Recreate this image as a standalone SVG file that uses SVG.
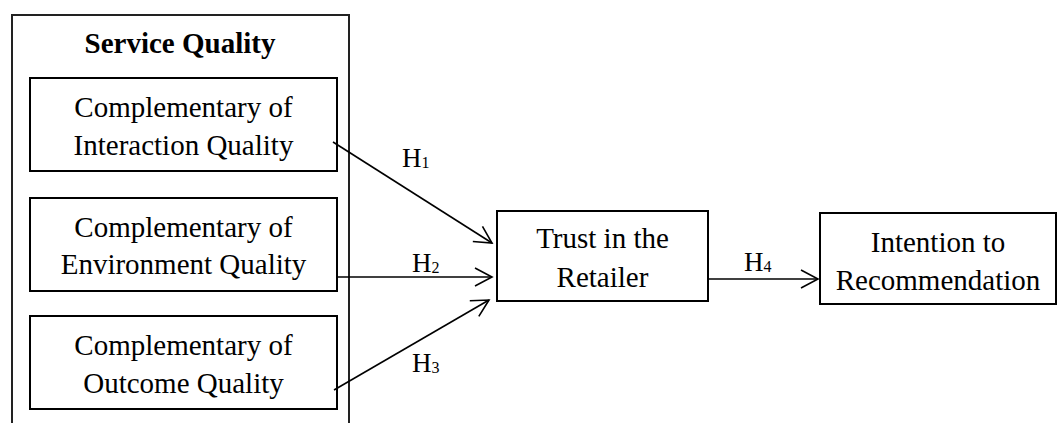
<svg xmlns="http://www.w3.org/2000/svg" width="1058" height="423" viewBox="0 0 1058 423">
  <defs>
    <style>
      .box { fill: #ffffff; stroke: #000000; stroke-width: 2; }
      .frame { fill: none; stroke: #222222; stroke-width: 2; }
      .lbl { font-family: "Liberation Serif", "Times New Roman", serif; font-size: 29px; fill: #000000; text-anchor: middle; }
      .title { font-weight: bold; }
      .hyp { font-family: "Liberation Serif", "Times New Roman", serif; font-size: 27px; fill: #000000; }
      .sub { font-size: 16px; }
      .edge { fill: none; stroke: #000000; stroke-width: 1.6; }
    </style>
    <marker id="arrow" markerUnits="userSpaceOnUse" markerWidth="24" markerHeight="24" refX="0" refY="0" viewBox="-20 -12 24 24" orient="auto">
      <path d="M-17,-9 L0,0 L-17,9" fill="none" stroke="#000000" stroke-width="1.6"/>
    </marker>
  </defs>

  <rect width="1058" height="423" fill="#ffffff"/>

  <!-- Service Quality frame (open at the bottom) -->
  <g id="service-quality">
    <path class="frame" d="M12,423 L12,15 L349,15 L349,423"/>
    <text class="lbl title" x="180" y="53">Service Quality</text>
  </g>

  <g id="interaction-quality">
    <rect class="box" x="30" y="78" width="307" height="93"/>
    <text class="lbl" x="183.5" y="117">Complementary of</text>
    <text class="lbl" x="183.5" y="155">Interaction Quality</text>
  </g>

  <g id="environment-quality">
    <rect class="box" x="30" y="198" width="307" height="93"/>
    <text class="lbl" x="183.5" y="237">Complementary of</text>
    <text class="lbl" x="183.5" y="274">Environment Quality</text>
  </g>

  <g id="outcome-quality">
    <rect class="box" x="30" y="316" width="307" height="93"/>
    <text class="lbl" x="183.5" y="355">Complementary of</text>
    <text class="lbl" x="183.5" y="393">Outcome Quality</text>
  </g>

  <g id="trust">
    <rect class="box" x="497" y="211" width="211" height="90"/>
    <text class="lbl" x="602.5" y="248">Trust in the</text>
    <text class="lbl" x="602.5" y="287">Retailer</text>
  </g>

  <g id="intention">
    <rect class="box" x="820" y="213" width="236" height="91"/>
    <text class="lbl" x="938" y="252">Intention to</text>
    <text class="lbl" x="938" y="290">Recommendation</text>
  </g>

  <g id="connectors">
    <line class="edge" x1="333" y1="142" x2="492" y2="243" marker-end="url(#arrow)"/>
    <line class="edge" x1="337" y1="277" x2="492" y2="277" marker-end="url(#arrow)"/>
    <line class="edge" x1="334" y1="390" x2="489" y2="300" marker-end="url(#arrow)"/>
    <line class="edge" x1="708" y1="279" x2="818" y2="279" marker-end="url(#arrow)"/>

    <text class="hyp" x="402" y="167">H<tspan class="sub" dy="1">1</tspan></text>
    <text class="hyp" x="412" y="272">H<tspan class="sub" dy="1">2</tspan></text>
    <text class="hyp" x="412" y="372">H<tspan class="sub" dy="1">3</tspan></text>
    <text class="hyp" x="744" y="271">H<tspan class="sub" dy="1">4</tspan></text>
  </g>
</svg>
